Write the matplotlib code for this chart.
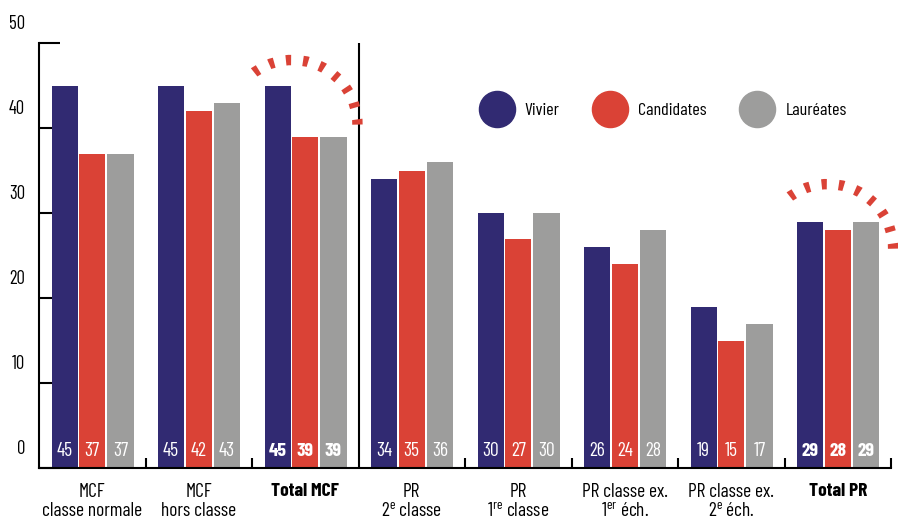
import numpy as np
import matplotlib.pyplot as plt
import matplotlib.transforms as mtransforms
from matplotlib.patches import Arc
from matplotlib.lines import Line2D

plt.rcParams['font.family'] = ['Barlow Condensed', 'DejaVu Sans']

# Data
categories = ['MCF\nclasse normale', 'MCF\nhors classe', 'Total MCF',
              'PR\n2$^\\mathregular{e}$ classe', 'PR\n1$^\\mathregular{re}$ classe',
              'PR classe ex.\n1$^\\mathregular{er}$ éch.', 'PR classe ex.\n2$^\\mathregular{e}$ éch.',
              'Total PR']
vivier = [45, 45, 45, 34, 30, 26, 19, 29]
candidates = [37, 42, 39, 35, 27, 24, 15, 28]
laureates = [37, 43, 39, 36, 30, 28, 17, 29]
series_names = ['Vivier', 'Candidates', 'Lauréates']
totals = ['Total MCF', 'Total PR']

colors = ['#312a72', '#da4236', '#9d9d9c']

fig = plt.figure(figsize=(8.98, 5.2), dpi=100)
ax = fig.add_axes([39 / 898, 52 / 520, 852 / 898, 425 / 520])

x = np.arange(len(categories))
width = 0.245
offsets = [-0.26, 0, 0.265]
for vals, off, col in zip([vivier, candidates, laureates], offsets, colors):
    ax.bar(x + off, vals, width, color=col, zorder=2)
    for xi, v, cat in zip(x, vals, categories):
        bold = cat in totals
        ax.text(xi + off, 2.0, str(v), ha='center', va='center', color='white',
                fontsize=14, fontweight='bold' if bold else 'normal', zorder=3)

ax.set_xlim(-0.5, 7.5)
ax.set_ylim(0, 50)
ax.set_axisbelow(True)

for s in ['top', 'right']:
    ax.spines[s].set_visible(False)
for s in ['left', 'bottom']:
    ax.spines[s].set_linewidth(1.5)

# y ticks pointing inward, labels shifted up
ax.set_yticks(range(0, 51, 10))
ax.tick_params(axis='y', direction='in', length=15, width=1.5, labelsize=13.5, pad=10)
offset = mtransforms.ScaledTranslation(0, 21 / 100, fig.dpi_scale_trans)
for lab in ax.get_yticklabels():
    lab.set_transform(lab.get_transform() + offset)

# x ticks at group boundaries, labels at centers
ax.set_xticks([0.5, 1.5, 3.5, 4.5, 5.5, 6.5, 7.5])
ax.set_xticklabels([])
ax.tick_params(axis='x', which='major', direction='in', length=7, width=1.5)
ax.set_xticks(x, minor=True)
ax.set_xticklabels(categories, minor=True, fontsize=14, linespacing=1.05)
ax.tick_params(axis='x', which='minor', length=0, pad=11)
for lab, cat in zip(ax.get_xticklabels(minor=True), categories):
    if cat in totals:
        lab.set_fontweight('bold')

# divider between MCF and PR
ax.axvline(2.5, color='black', lw=1.5, zorder=1)

# dashed arcs above totals (radii in data units; end angle corrected for aspect)
rx, ry = 0.61, 7.6
end = np.radians(130)
theta2 = np.degrees(np.arctan2(np.sin(end) * ry, np.cos(end) * rx))
for cx, cy in [(2 - 0.12, 40.4), (7 - 0.09, 25.8)]:
    arc = Arc((cx, cy), 2 * rx, 2 * ry, theta1=0, theta2=theta2, color=colors[1],
              lw=7.5, linestyle=(0, (0.5, 1.15)), zorder=4, clip_on=False)
    ax.add_patch(arc)

# legend
handles = [Line2D([], [], marker='o', ls='', markersize=26, color=c) for c in colors]
ax.legend(handles, series_names, loc='center', bbox_to_anchor=(0.732, 0.842), ncol=3,
          frameon=False, fontsize=13, handletextpad=0.55, columnspacing=1.8)

plt.savefig('out.png', dpi=100)
